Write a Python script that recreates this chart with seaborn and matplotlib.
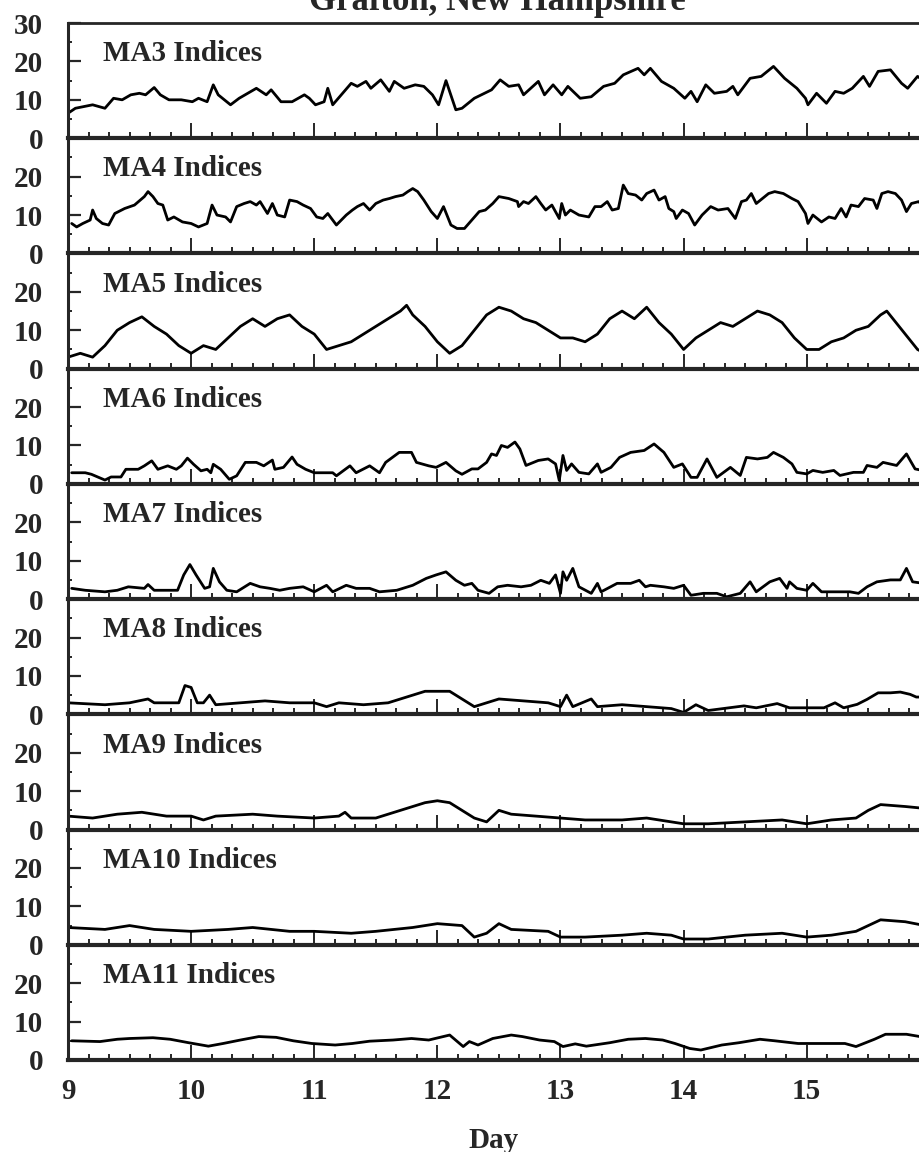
import numpy as np
import pandas as pd
import matplotlib
matplotlib.use("Agg")
import matplotlib.pyplot as plt
from matplotlib.ticker import MultipleLocator
import seaborn as sns

# ---- data: day of month vs. index value for each moving-average window ----
ma3_day = [9.00, 9.06, 9.20, 9.30, 9.37, 9.44, 9.51, 9.58, 9.63, 9.70, 9.75, 9.82, 9.92, 10.01, 10.06,
           10.13, 10.18, 10.22, 10.32, 10.39, 10.53, 10.61, 10.65, 10.73, 10.82, 10.92, 10.96, 11.01,
           11.08, 11.11, 11.15, 11.30, 11.35, 11.42, 11.46, 11.54, 11.61, 11.65, 11.73, 11.82, 11.89,
           11.96, 12.01, 12.07, 12.15, 12.20, 12.30, 12.44, 12.51, 12.58, 12.66, 12.70, 12.82, 12.87,
           12.94, 13.01, 13.06, 13.16, 13.25, 13.35, 13.44, 13.51, 13.63, 13.68, 13.73, 13.82, 13.92,
           14.01, 14.06, 14.11, 14.18, 14.25, 14.35, 14.40, 14.44, 14.54, 14.63, 14.73, 14.82, 14.92,
           14.99, 15.01, 15.08, 15.16, 15.23, 15.30, 15.37, 15.46, 15.51, 15.58, 15.68, 15.77, 15.82,
           15.90, 15.96]
ma3_val = [6.5, 7.8, 8.7, 7.8, 10.4, 10.0, 11.3, 11.7, 11.3, 13.2, 11.3, 10.0, 10.0, 9.5, 10.4,
           9.5, 13.9, 11.3, 8.7, 10.4, 13.0, 11.3, 12.6, 9.5, 9.5, 11.3, 10.4, 8.7,
           9.5, 13.0, 8.7, 14.3, 13.5, 14.8, 13.0, 15.2, 12.2, 14.8, 13.0, 13.9, 13.5,
           11.3, 8.7, 15.0, 7.4, 7.8, 10.4, 12.6, 15.2, 13.5, 13.9, 11.3, 14.8, 11.3,
           13.9, 11.3, 13.5, 10.4, 10.8, 13.5, 14.3, 16.5, 18.2, 16.5, 18.2, 14.8, 13.0,
           10.4, 12.2, 9.5, 13.9, 11.7, 12.2, 13.5, 11.3, 15.6, 16.1, 18.7, 15.6, 13.0,
           10.4, 8.7, 11.7, 9.1, 12.2, 11.7, 13.0, 16.1, 13.5, 17.4, 17.8, 14.3, 13.0,
           16.1, 14.8]

ma4_day = [9.03, 9.07, 9.12, 9.18, 9.20, 9.23, 9.28, 9.33, 9.38, 9.46, 9.54, 9.62, 9.65, 9.69, 9.73,
           9.77, 9.81, 9.86, 9.93, 10.00, 10.06, 10.13, 10.17, 10.21, 10.28, 10.32, 10.37, 10.43,
           10.48, 10.53, 10.56, 10.62, 10.66, 10.70, 10.76, 10.80, 10.86, 10.91, 10.97, 11.02, 11.07,
           11.11, 11.18, 11.26, 11.31, 11.35, 11.40, 11.45, 11.50, 11.56, 11.61, 11.66, 11.72, 11.76,
           11.80, 11.84, 11.89, 11.95, 12.00, 12.05, 12.11, 12.16, 12.22, 12.28, 12.34, 12.39, 12.45,
           12.50, 12.58, 12.65, 12.66, 12.70, 12.74, 12.80, 12.84, 12.88, 12.93, 12.99, 13.01, 13.04,
           13.08, 13.15, 13.23, 13.28, 13.33, 13.38, 13.42, 13.47, 13.51, 13.55, 13.61, 13.66, 13.70,
           13.76, 13.80, 13.85, 13.88, 13.92, 13.94, 13.99, 14.04, 14.09, 14.15, 14.22, 14.28, 14.36,
           14.42, 14.47, 14.51, 14.55, 14.59, 14.64, 14.69, 14.74, 14.81, 14.88, 14.93, 14.99, 15.01,
           15.05, 15.12, 15.18, 15.23, 15.28, 15.32, 15.36, 15.42, 15.47, 15.54, 15.57, 15.61, 15.66,
           15.72, 15.77, 15.81, 15.85, 15.91, 15.96]
ma4_val = [7.8, 6.9, 7.8, 8.7, 11.3, 9.1, 7.8, 7.4, 10.4, 11.7, 12.6, 14.8, 16.1, 14.8, 13.0,
           12.6, 8.7, 9.5, 8.2, 7.8, 6.9, 7.8, 12.6, 10.0, 9.5, 8.2, 12.2, 13.0,
           13.5, 12.6, 13.5, 10.4, 13.0, 10.0, 9.5, 13.9, 13.5, 12.6, 11.7, 9.5, 9.1,
           10.4, 7.4, 10.0, 11.3, 12.2, 13.0, 11.3, 13.0, 13.9, 14.3, 14.8, 15.2, 16.1,
           16.9, 16.1, 13.9, 10.9, 9.1, 12.2, 7.4, 6.5, 6.5, 8.7, 10.9, 11.3, 13.0,
           14.8, 14.3, 13.5, 12.2, 13.5, 13.0, 14.8, 13.0, 11.3, 12.6, 9.1, 13.0, 10.0,
           11.3, 10.0, 9.5, 12.2, 12.2, 13.5, 11.3, 11.7, 17.8, 15.6, 15.2, 13.9, 15.6,
           16.5, 13.9, 14.8, 11.7, 10.9, 9.1, 11.3, 10.4, 7.4, 10.0, 12.2, 11.3, 11.7,
           9.1, 13.5, 13.9, 15.6, 13.0, 14.3, 15.6, 16.1, 15.6, 14.3, 13.5, 10.4, 7.8,
           10.0, 8.2, 9.5, 9.1, 11.7, 9.5, 12.6, 12.2, 14.3, 13.9, 11.7, 15.6, 16.1,
           15.6, 13.9, 10.9, 13.0, 13.5, 11.7]

ma5_day = [9.00, 9.10, 9.20, 9.30, 9.40, 9.50, 9.60, 9.70, 9.80, 9.90, 10.00, 10.10, 10.20, 10.30,
           10.40, 10.50, 10.60, 10.70, 10.80, 10.90, 11.00, 11.10, 11.20, 11.30, 11.40, 11.50, 11.60,
           11.70, 11.75, 11.80, 11.90, 12.00, 12.10, 12.20, 12.30, 12.40, 12.50, 12.60, 12.70, 12.80,
           12.90, 13.00, 13.10, 13.20, 13.30, 13.40, 13.50, 13.60, 13.70, 13.80, 13.90, 14.00, 14.10,
           14.20, 14.30, 14.40, 14.50, 14.60, 14.70, 14.80, 14.90, 15.00, 15.10, 15.20, 15.30, 15.40,
           15.50, 15.60, 15.65, 15.70, 15.80, 15.90, 15.96]
ma5_val = [3.0, 4.0, 3.0, 6.0, 10.0, 12.0, 13.5, 11.0, 9.0, 6.0, 4.0, 6.0, 5.0, 8.0,
           11.0, 13.0, 11.0, 13.0, 14.0, 11.0, 9.0, 5.0, 6.0, 7.0, 9.0, 11.0, 13.0,
           15.0, 16.5, 14.0, 11.0, 7.0, 4.0, 6.0, 10.0, 14.0, 16.0, 15.0, 13.0, 12.0,
           10.0, 8.0, 8.0, 7.0, 9.0, 13.0, 15.0, 13.0, 16.0, 12.0, 9.0, 5.0, 8.0,
           10.0, 12.0, 11.0, 13.0, 15.0, 14.0, 12.0, 8.0, 5.0, 5.0, 7.0, 8.0, 10.0,
           11.0, 14.0, 15.0, 13.0, 9.0, 5.0, 4.0]

ma6_day = [9.03, 9.14, 9.19, 9.30, 9.35, 9.43, 9.47, 9.57, 9.62, 9.68, 9.73, 9.81, 9.88, 9.92, 9.97,
           10.02, 10.08, 10.13, 10.16, 10.18, 10.24, 10.31, 10.37, 10.44, 10.53, 10.59, 10.66, 10.68,
           10.75, 10.82, 10.86, 10.93, 11.00, 11.07, 11.15, 11.18, 11.29, 11.34, 11.45, 11.53, 11.58,
           11.69, 11.79, 11.83, 11.93, 11.99, 12.07, 12.15, 12.20, 12.28, 12.33, 12.40, 12.44, 12.48,
           12.52, 12.57, 12.63, 12.67, 12.72, 12.82, 12.90, 12.96, 12.99, 13.02, 13.05, 13.09, 13.15,
           13.23, 13.30, 13.33, 13.41, 13.48, 13.57, 13.68, 13.76, 13.84, 13.92, 13.99, 14.06, 14.11,
           14.19, 14.27, 14.38, 14.46, 14.51, 14.60, 14.68, 14.73, 14.81, 14.88, 14.92, 15.00, 15.05,
           15.13, 15.22, 15.27, 15.38, 15.46, 15.49, 15.57, 15.62, 15.73, 15.81, 15.88, 15.94]
ma6_val = [2.9, 2.9, 2.5, 1.0, 1.8, 1.8, 3.8, 3.8, 4.7, 6.0, 3.8, 4.7, 3.8, 4.7, 6.7,
           5.1, 3.4, 3.8, 2.9, 5.1, 3.8, 1.2, 2.1, 5.6, 5.6, 4.7, 6.2, 3.8,
           4.3, 7.0, 5.1, 3.8, 2.9, 2.9, 2.9, 2.1, 4.7, 2.9, 4.7, 2.9, 5.6,
           8.2, 8.2, 5.6, 4.7, 4.3, 5.6, 3.4, 2.5, 3.9, 3.9, 5.6, 7.8, 7.4,
           10.0, 9.5, 10.9, 9.1, 4.8, 6.1, 6.5, 5.2, 0.9, 7.4, 3.5, 5.2, 3.0,
           2.6, 5.2, 3.0, 4.3, 6.9, 8.2, 8.7, 10.4, 8.2, 4.3, 5.2, 1.7, 1.7,
           6.5, 1.7, 4.3, 2.2, 6.9, 6.5, 6.9, 8.2, 6.9, 5.2, 3.0, 2.6, 3.5,
           3.0, 3.5, 2.2, 3.0, 3.0, 4.8, 4.3, 5.6, 4.8, 7.8, 3.9, 3.5]

ma7_day = [9.03, 9.14, 9.30, 9.40, 9.49, 9.62, 9.65, 9.70, 9.81, 9.89, 9.94, 9.99, 10.04, 10.11,
           10.15, 10.18, 10.23, 10.29, 10.37, 10.48, 10.56, 10.64, 10.72, 10.80, 10.91, 11.00, 11.10,
           11.15, 11.26, 11.34, 11.45, 11.53, 11.67, 11.80, 11.91, 11.99, 12.07, 12.15, 12.22, 12.28,
           12.33, 12.42, 12.49, 12.57, 12.68, 12.76, 12.84, 12.91, 12.96, 13.00, 13.02, 13.05, 13.10,
           13.15, 13.25, 13.30, 13.33, 13.46, 13.57, 13.64, 13.69, 13.73, 13.84, 13.92, 14.00, 14.06,
           14.16, 14.27, 14.35, 14.46, 14.54, 14.59, 14.70, 14.78, 14.84, 14.86, 14.92, 15.00, 15.05,
           15.12, 15.24, 15.35, 15.42, 15.49, 15.57, 15.68, 15.76, 15.81, 15.86, 15.95]
ma7_val = [2.8, 2.3, 1.9, 2.3, 3.2, 2.8, 3.8, 2.3, 2.3, 2.3, 6.3, 9.0, 6.3, 2.8,
           3.2, 8.0, 4.5, 2.3, 1.9, 4.1, 3.2, 2.8, 2.3, 2.8, 3.2, 1.9, 3.6,
           1.9, 3.6, 2.8, 2.8, 1.9, 2.3, 3.6, 5.4, 6.3, 7.1, 4.9, 3.6, 4.1,
           2.3, 1.5, 3.2, 3.6, 3.2, 3.6, 4.9, 4.1, 6.3, 1.5, 7.1, 4.9, 8.0,
           3.2, 1.5, 4.1, 1.9, 4.1, 4.1, 4.9, 3.2, 3.6, 3.2, 2.8, 3.6, 1.0,
           1.5, 1.5, 0.6, 1.5, 4.5, 1.9, 4.5, 5.4, 2.8, 4.5, 2.8, 2.3, 4.1,
           1.9, 1.9, 1.9, 1.5, 3.2, 4.5, 5.0, 5.0, 8.0, 4.5, 4.1]

ma8_day = [9.00, 9.30, 9.50, 9.65, 9.70, 9.90, 9.95, 10.00, 10.05, 10.10, 10.15, 10.20, 10.40, 10.60,
           10.80, 11.00, 11.10, 11.20, 11.40, 11.60, 11.80, 11.90, 12.10, 12.20, 12.30, 12.40, 12.50,
           12.70, 12.90, 13.00, 13.05, 13.10, 13.25, 13.30, 13.50, 13.70, 13.90, 14.00, 14.10, 14.20,
           14.49, 14.59, 14.76, 14.86, 15.00, 15.14, 15.23, 15.30, 15.41, 15.49, 15.58, 15.68, 15.76,
           15.84, 15.89, 15.95]
ma8_val = [3.0, 2.5, 3.0, 4.0, 3.0, 3.0, 7.5, 7.0, 3.0, 3.0, 5.0, 2.5, 3.0, 3.5,
           3.0, 3.0, 2.0, 3.0, 2.5, 3.0, 5.0, 6.0, 6.0, 4.0, 2.0, 3.0, 4.0,
           3.5, 3.0, 2.0, 5.0, 2.0, 4.0, 2.0, 2.5, 2.0, 1.5, 0.5, 2.5, 1.0,
           2.2, 1.7, 2.8, 1.7, 1.7, 1.7, 3.0, 1.7, 2.6, 3.9, 5.6, 5.6, 5.8,
           5.2, 4.5, 4.5]

ma9_day = [9.00, 9.20, 9.40, 9.60, 9.80, 10.00, 10.10, 10.20, 10.50, 10.70, 11.00, 11.20, 11.25,
           11.30, 11.50, 11.70, 11.90, 12.00, 12.10, 12.20, 12.30, 12.40, 12.50, 12.60, 12.80, 13.00,
           13.20, 13.50, 13.70, 13.90, 14.00, 14.20, 14.50, 14.80, 15.00, 15.20, 15.40, 15.50, 15.60,
           15.80, 15.96]
ma9_val = [3.5, 3.0, 4.0, 4.5, 3.5, 3.5, 2.5, 3.5, 4.0, 3.5, 3.0, 3.5, 4.5,
           3.0, 3.0, 5.0, 7.0, 7.5, 7.0, 5.0, 3.0, 2.0, 5.0, 4.0, 3.5, 3.0,
           2.5, 2.5, 3.0, 2.0, 1.5, 1.5, 2.0, 2.5, 1.5, 2.5, 3.0, 5.0, 6.5,
           6.0, 5.5]

ma10_day = [9.00, 9.30, 9.50, 9.70, 10.00, 10.30, 10.50, 10.80, 11.00, 11.30, 11.50, 11.80, 12.00,
            12.20, 12.30, 12.40, 12.50, 12.60, 12.90, 13.00, 13.20, 13.50, 13.70, 13.90, 14.00, 14.20,
            14.50, 14.80, 15.00, 15.20, 15.40, 15.50, 15.60, 15.80, 15.96]
ma10_val = [4.5, 4.0, 5.0, 4.0, 3.5, 4.0, 4.5, 3.5, 3.5, 3.0, 3.5, 4.5, 5.5,
            5.0, 2.0, 3.0, 5.5, 4.0, 3.5, 2.0, 2.0, 2.5, 3.0, 2.5, 1.5, 1.5,
            2.5, 3.0, 2.0, 2.5, 3.5, 5.0, 6.5, 6.0, 5.0]

ma11_day = [9.03, 9.26, 9.40, 9.50, 9.69, 9.83, 9.98, 10.14, 10.26, 10.40, 10.55, 10.69, 10.83,
            10.98, 11.17, 11.31, 11.45, 11.64, 11.79, 11.93, 12.10, 12.21, 12.26, 12.33, 12.45, 12.60,
            12.69, 12.83, 12.95, 13.02, 13.12, 13.21, 13.40, 13.55, 13.69, 13.83, 13.93, 14.05, 14.14,
            14.31, 14.45, 14.62, 14.74, 14.93, 15.12, 15.31, 15.40, 15.55, 15.64, 15.81, 15.92]
ma11_val = [5.0, 4.8, 5.4, 5.6, 5.8, 5.4, 4.5, 3.6, 4.3, 5.2, 6.1, 5.9, 5.0,
            4.3, 3.9, 4.3, 4.9, 5.2, 5.6, 5.2, 6.5, 3.5, 4.8, 3.9, 5.6, 6.5,
            6.1, 5.2, 4.8, 3.5, 4.2, 3.6, 4.5, 5.4, 5.6, 5.2, 4.3, 3.0, 2.6,
            3.9, 4.5, 5.4, 5.0, 4.3, 4.3, 4.3, 3.5, 5.4, 6.7, 6.7, 6.1]

panel_names = ["MA3 Indices", "MA4 Indices", "MA5 Indices", "MA6 Indices", "MA7 Indices",
               "MA8 Indices", "MA9 Indices", "MA10 Indices", "MA11 Indices"]
panel_days = [ma3_day, ma4_day, ma5_day, ma6_day, ma7_day, ma8_day, ma9_day, ma10_day, ma11_day]
panel_vals = [ma3_val, ma4_val, ma5_val, ma6_val, ma7_val, ma8_val, ma9_val, ma10_val, ma11_val]

day_ticks = [9, 10, 11, 12, 13, 14, 15]
title = "Grafton, New Hampshire"
x_label = "Day"

# ---- style ----
sns.set_style("ticks")
plt.rcParams["font.family"] = ["Liberation Serif", "DejaVu Serif"]
plt.rcParams["font.weight"] = "bold"

fig = plt.figure(figsize=(9.2, 11.52), dpi=100)
left, right = 68 / 920, 1.0
top, bottom = 1 - 23 / 1152, 1 - 1060 / 1152
n = len(panel_names)
ph = (top - bottom) / n

for i, (name, d, v) in enumerate(zip(panel_names, panel_days, panel_vals)):
    ax = fig.add_axes([left, top - (i + 1) * ph, right - left, ph])
    df = pd.DataFrame({"day": d, "value": v})
    sns.lineplot(data=df, x="day", y="value", ax=ax, color="black", lw=2.0,
                 estimator=None, sort=True)
    ax.set_xlim(9, 15.92)
    ax.set_ylim(0, 30)
    ax.set_xlabel("")
    ax.set_ylabel("")

    yt = [0, 10, 20, 30] if i == 0 else [0, 10, 20]
    ax.set_yticks(yt)
    ax.set_yticklabels([str(t) for t in yt])
    ax.yaxis.set_minor_locator(MultipleLocator(5))
    ax.set_xticks(day_ticks)
    ax.xaxis.set_minor_locator(MultipleLocator(1 / 6))

    ax.tick_params(axis="y", which="major", direction="in", length=9, width=1.6,
                   labelsize=21, pad=18)
    ax.tick_params(axis="y", which="minor", direction="in", length=3, width=1.4)
    ax.tick_params(axis="x", which="major", direction="in", length=11, width=1.4,
                   labelsize=21, pad=13)
    ax.tick_params(axis="x", which="minor", direction="in", length=4, width=1.4)
    for lab in ax.get_yticklabels() + ax.get_xticklabels():
        lab.set_fontweight("bold")

    if i < n - 1:
        ax.tick_params(axis="x", which="both", labelbottom=False)

    ax.spines["right"].set_visible(False)
    ax.spines["top"].set_visible(i == 0)
    ax.spines["top"].set_linewidth(2.0)
    ax.spines["left"].set_linewidth(2.2)
    ax.spines["bottom"].set_linewidth(3.0)
    ax.patch.set_alpha(0)

    ax.text(0.041, 22, name, transform=ax.get_yaxis_transform(), fontsize=21,
            fontweight="bold", va="center", ha="left")

    if i == n - 1:
        ax.set_xlabel(x_label, fontsize=21, fontweight="bold", labelpad=16)

# heading sits partly above the top edge of the page
fig.text(497 / 920, 1 - 10 / 1152, title, ha="center", va="baseline",
         fontsize=25, fontweight="bold")

fig.savefig("out.png", dpi=100)
